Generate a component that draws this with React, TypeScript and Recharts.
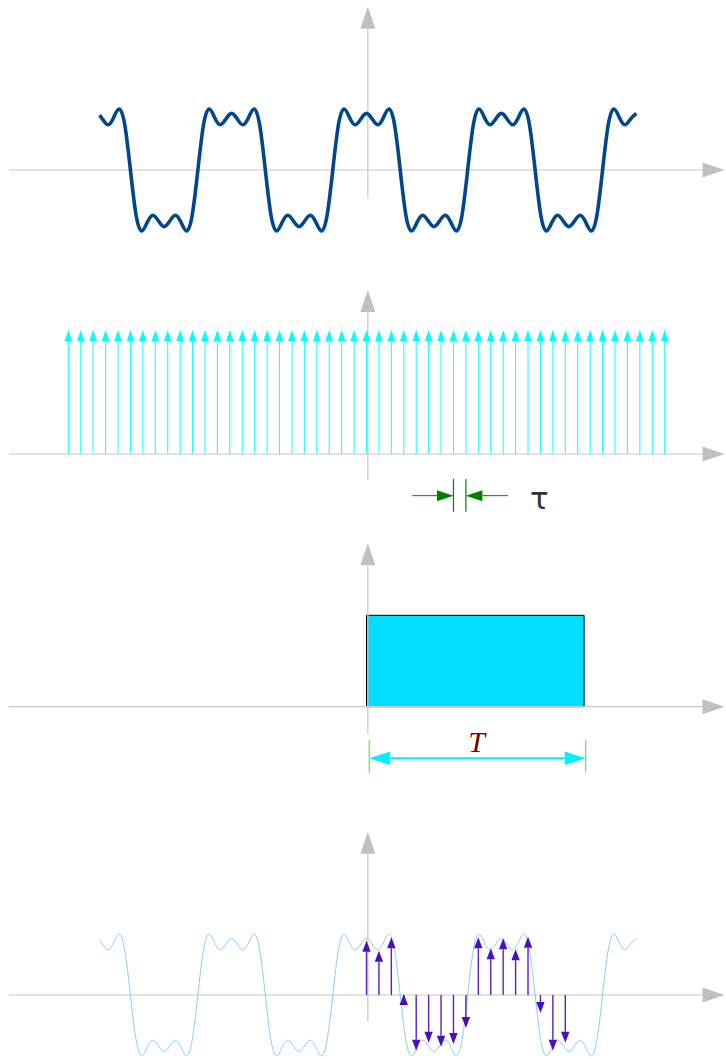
import React from 'react';
import {
  ComposedChart,
  Line,
  XAxis,
  YAxis,
  ReferenceLine,
  ReferenceArea,
  ReferenceDot,
} from 'recharts';

// ---------- data (time in units of the square-wave period) ----------
// first visible point of the wave
const WAVE_FIRST = { u: -1.979, v: 1.07 };
// then values read at 1/24-period steps, starting at u = -2 + 1/24
const WAVE_START = -2 + 1 / 24;
const WAVE_STEP = 1 / 24;
const WAVE_V = [
  0.996, 0.882, 1.02, 1.188, 0.876, 0, -0.876, -1.188, -1.02, -0.882, -0.996,
  -1.104, -0.996, -0.882, -1.02, -1.188, -0.876, 0, 0.876, 1.188, 1.02, 0.882, 0.996,
  1.104, 0.996, 0.882, 1.02, 1.188, 0.876, 0, -0.876, -1.188, -1.02, -0.882, -0.996,
  -1.104, -0.996, -0.882, -1.02, -1.188, -0.876, 0, 0.876, 1.188, 1.02, 0.882, 0.996,
  1.104, 0.996, 0.882, 1.02, 1.188, 0.876, 0, -0.876, -1.188, -1.02, -0.882, -0.996,
  -1.104, -0.996, -0.882, -1.02, -1.188, -0.876, 0, 0.876, 1.188, 1.02, 0.882, 0.996,
  1.104, 0.996, 0.882, 1.02, 1.188, 0.876, 0, -0.876, -1.188, -1.02, -0.882, -0.996,
  -1.104, -0.996, -0.882, -1.02, -1.188, -0.876, 0, 0.876, 1.188, 1.02, 0.882, 0.996,
  1.104,
];

const TAU = 0.0921; // sampling interval
const T_WINDOW = 1.613; // window length T

// impulse comb: sample index -24..24, unit height
const COMB_FIRST = -24;
const COMB_V = [
  1, 1, 1, 1, 1, 1, 1, 1, 1, 1, 1, 1, 1, 1, 1, 1, 1, 1, 1, 1, 1, 1, 1, 1, 1,
  1, 1, 1, 1, 1, 1, 1, 1, 1, 1, 1, 1, 1, 1, 1, 1, 1, 1, 1, 1, 1, 1, 1, 1,
];

// sampled values inside the window, index 0..16
const SAMPLED_V = [
  1.06, 0.865, 1.127, -0.195, -1.088, -0.932, -1.01, -0.957, -0.645, 1.127, 0.912, 1.107,
  0.893, 1.139, -0.352, -1.088, -0.932,
];

const waveData = [WAVE_FIRST, ...WAVE_V.map((v, i) => ({ u: WAVE_START + i * WAVE_STEP, v }))];
const combData = COMB_V.map((v, i) => ({ u: (COMB_FIRST + i) * TAU, v }));
const sampledData = SAMPLED_V.map((v, i) => ({ u: i * TAU, v }));

// ---------- layout ----------
const W = 726;
const X_DOMAIN: [number, number] = [-2.7168, 2.6649];
const AX_X0 = -2.65;
const AX_X1 = 2.654;

const AXIS_LINE = '#c8c8c8';
const AXIS_HEAD = '#c0c0c0';

function makeArrow(lineColor: string, headColor: string, headLen: number, headHalf: number, lineWidth: number) {
  return (p: any) => {
    const { x1, y1, x2, y2 } = p;
    const dx = x2 - x1;
    const dy = y2 - y1;
    const len = Math.hypot(dx, dy) || 1;
    const ux = dx / len;
    const uy = dy / len;
    let ax: number, ay: number, bx: number, by: number;
    const normal = len >= headLen;
    if (normal) {
      ax = x2; ay = y2; bx = x2 - ux * headLen; by = y2 - uy * headLen;
    } else {
      bx = x2; by = y2; ax = x2 - ux * headLen; ay = y2 - uy * headLen;
    }
    const px = -uy * headHalf;
    const py = ux * headHalf;
    return (
      <g>
        <line x1={x1} y1={y1} x2={normal ? bx : x2} y2={normal ? by : y2} stroke={lineColor} strokeWidth={lineWidth} />
        <polygon points={`${ax},${ay} ${bx + px},${by + py} ${bx - px},${by - py}`} fill={headColor} />
      </g>
    );
  };
}

const axisArrow = makeArrow(AXIS_LINE, AXIS_HEAD, 22, 7.5, 1.2);
const combArrow = makeArrow('#22ffff', '#00ffff', 11, 3.8, 1.1);
const sampArrow = makeArrow('#5a20c8', '#4a10c0', 11, 4.2, 1.4);
const tauArrow = makeArrow('#008000', '#008000', 16.5, 5.5, 1);
const tArrow = makeArrow('#00f0ff', '#00f0ff', 21, 6.7, 2);

const plainLine = (color: string, w: number) => (p: any) => (
  <line x1={p.x1} y1={p.y1} x2={p.x2} y2={p.y2} stroke={color} strokeWidth={w} />
);

function axisLines(top: number, bottom: number) {
  return [
    <ReferenceLine
      key="hx"
      segment={[{ x: AX_X0, y: 0 }, { x: AX_X1, y: 0 }]}
      shape={axisArrow}
    />,
    <ReferenceLine
      key="vy"
      segment={[{ x: 0.01, y: bottom }, { x: 0.01, y: top }]}
      shape={axisArrow}
    />,
  ];
}

const margin = { top: 0, right: 0, bottom: 0, left: 0 };

function Panel({ height, yDomain, data, children }: any) {
  return (
    <ComposedChart width={W} height={height} data={data} margin={margin}>
      <XAxis type="number" dataKey="u" domain={X_DOMAIN} allowDataOverflow hide />
      <YAxis type="number" domain={yDomain} allowDataOverflow hide />
      {children}
    </ComposedChart>
  );
}

export default function App() {
  return (
    <div style={{ position: 'absolute', left: 0, top: 0, width: W, height: 1059, background: '#fff' }}>
      {/* panel 1: square-wave approximation */}
      <Panel height={250} yDomain={[-1.5595, 3.3138]} data={waveData}>
        {axisLines(3.183, -0.5517)}
        <Line
          type="natural"
          dataKey="v"
          stroke="#00478c"
          strokeWidth={3.6}
          dot={false}
          activeDot={false}
          isAnimationActive={false}
        />
      </Panel>

      {/* panel 2: impulse comb */}
      <Panel height={270} yDomain={[-0.5323, 1.6452]} data={combData}>
        {axisLines(1.3226, -0.2097)}
        {combData.map((d, i) => (
          <ReferenceLine key={'c' + i} segment={[{ x: d.u, y: 0 }, { x: d.u, y: d.v }]} shape={combArrow} />
        ))}
        <ReferenceLine segment={[{ x: 7 * TAU, y: -0.2016 }, { x: 7 * TAU, y: -0.4653 }]} shape={plainLine('#008000', 1.2)} />
        <ReferenceLine segment={[{ x: 8 * TAU, y: -0.2016 }, { x: 8 * TAU, y: -0.4653 }]} shape={plainLine('#008000', 1.2)} />
        <ReferenceLine segment={[{ x: 0.3395, y: -0.336 }, { x: 7 * TAU, y: -0.336 }]} shape={tauArrow} />
        <ReferenceLine segment={[{ x: 1.049, y: -0.336 }, { x: 8 * TAU, y: -0.336 }]} shape={tauArrow} />
        <ReferenceDot
          x={1.212}
          y={-0.4435}
          r={1}
          shape={(p: any) => (
            <text x={p.cx} y={p.cy} fontSize={31} fontFamily="DejaVu Sans" fill="#333333" textAnchor="start">
              τ
            </text>
          )}
        />
      </Panel>

      {/* panel 3: window of length T */}
      <Panel height={270} yDomain={[-0.9114, 2.0427]} data={sampledData}>
        {axisLines(1.788, -0.2987)}
        <ReferenceArea x1={0} x2={T_WINDOW} y1={0} y2={1} fill="#00ddff" fillOpacity={1} stroke="#000000" strokeWidth={1} />
        <ReferenceLine segment={[{ x: 0.02, y: -0.3643 }, { x: 0.02, y: -0.7221 }]} shape={plainLine('#33e633', 1)} />
        <ReferenceLine segment={[{ x: 1.625, y: -0.3643 }, { x: 1.625, y: -0.7221 }]} shape={plainLine('#33e633', 1)} />
        <ReferenceLine segment={[{ x: 0.82, y: -0.5646 }, { x: 0.02, y: -0.5646 }]} shape={tArrow} />
        <ReferenceLine segment={[{ x: 0.82, y: -0.5646 }, { x: 1.625, y: -0.5646 }]} shape={tArrow} />
        <ReferenceDot
          x={0.817}
          y={-0.4956}
          r={1}
          shape={(p: any) => (
            <text x={p.cx} y={p.cy} fontSize={30} fontFamily="Liberation Serif" fontStyle="italic" fill="#7a0000" textAnchor="middle">
              T
            </text>
          )}
        />
      </Panel>

      {/* panel 4: windowed samples over the wave */}
      <Panel height={269} yDomain={[-1.25, 4.004]} data={waveData}>
        {axisLines(3.19, -0.521)}
        <Line
          type="natural"
          dataKey="v"
          stroke="#87cefa"
          strokeWidth={1}
          dot={false}
          activeDot={false}
          isAnimationActive={false}
        />
        {sampledData.map((d, i) => (
          <ReferenceLine key={'s' + i} segment={[{ x: d.u, y: 0 }, { x: d.u, y: d.v }]} shape={sampArrow} />
        ))}
      </Panel>
    </div>
  );
}
